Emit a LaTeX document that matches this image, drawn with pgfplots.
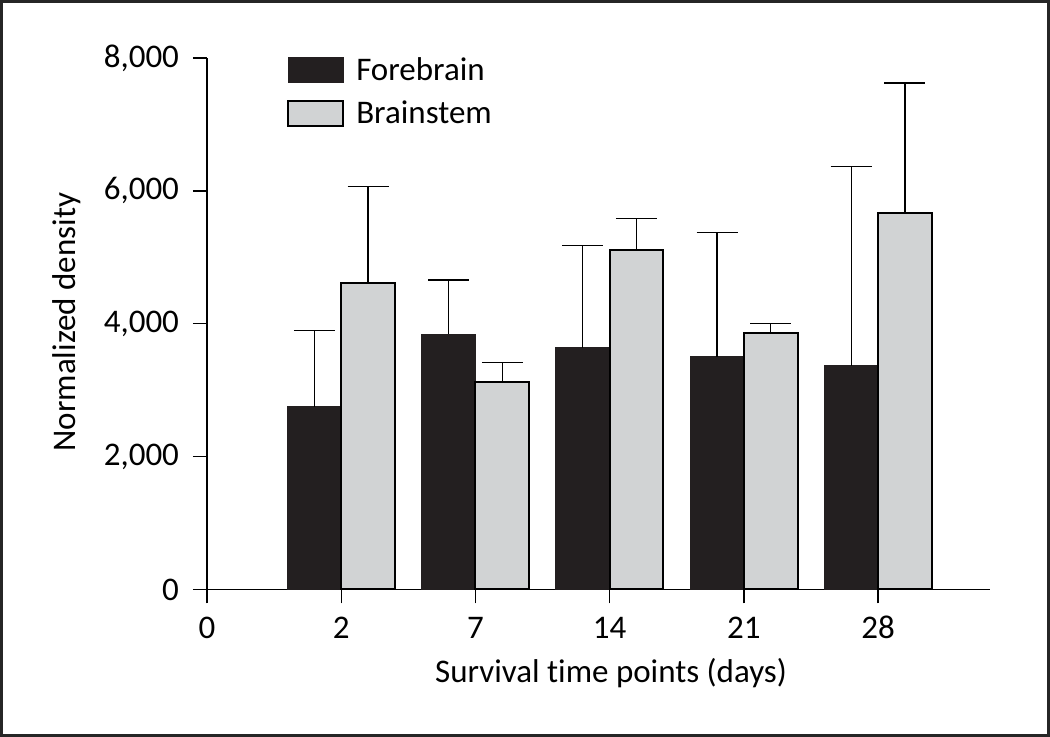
\documentclass[border=0pt]{standalone}
\usepackage{fontspec}
\setmainfont{Carlito}[Ligatures={NoCommon}]
\usepackage{pgfplots}
\pgfplotsset{compat=1.18}
\definecolor{fore}{HTML}{231F20}
\definecolor{brain}{HTML}{D1D3D4}
\pgfplotsset{myleg/.style={legend image code/.code={\draw[##1] (0pt,-6.25pt) rectangle (27.5pt,6.25pt);}}}
\begin{document}
\begin{tikzpicture}[x=1pt,y=1pt]
\draw[line width=1.4pt, color=black!85] (0.7,0.7) rectangle (524.3,367.8);
\begin{axis}[
  at={(103.5pt,73.75pt)}, anchor=south west,
  scale only axis, width=391.5pt, height=265.75pt,
  xmin=0, xmax=5.834, ymin=0, ymax=8000,
  axis x line*=bottom, axis y line*=left,
  axis line style={line width=0.7pt, black},
  tick align=outside, major tick length=7pt,
  tick style={line width=0.7pt, black},
  xtick={0,1,2,3,4,5}, xticklabels={0,2,7,14,21,28},
  ytick={0,2000,4000,6000,8000},
  scaled y ticks=false,
  /pgf/number format/assume math mode=true,
  /pgf/number format/1000 sep={,},
  tick label style={font=\fontsize{16.5}{19}\selectfont},
  y tick label style={xshift=-3.5pt},
  x tick label style={yshift=-2.5pt, text height=11.5pt, text depth=0pt},
  xlabel={Survival time points (days)},
  ylabel={Normalized density},
  label style={font=\fontsize{16.5}{19}\selectfont},
  x label style={at={(axis description cs:0.516,-0.1759)}, anchor=base},
  y label style={at={(axis description cs:-0.1788,0.503)}, anchor=center, rotate=0},
  legend style={at={(axis description cs:0.102,1.0094)}, anchor=north west, draw=none, fill=none,
    font=\fontsize{16.5}{19}\selectfont, inner sep=0pt, row sep=4.8pt, column sep=4pt},
  legend cell align=left,
  ybar, bar width=0.4,
]
\addplot[bar shift=-0.2, fill=fore, draw=fore, line width=0.6pt,
  error bars/.cd, y dir=plus, y explicit, error mark=|,
  error bar style={line width=0.6pt, black},
  error mark options={line width=0.6pt, black, mark size=10.25pt},
  /pgfplots/.cd, myleg]
  table[x=x, y=y, y error=e] {
x y e
1 2748 1155
2 3843 814
3 3642 1536
4 3502 1872
5 3366 3001
};
\addlegendentry{Forebrain}
\addplot[bar shift=0.2, fill=brain, draw=black, line width=1pt,
  error bars/.cd, y dir=plus, y explicit, error mark=|,
  error bar style={line width=0.6pt, black},
  error mark options={line width=0.6pt, black, mark size=10.25pt},
  /pgfplots/.cd, myleg]
  table[x=x, y=y, y error=e] {
x y e
1 4611 1455
2 3130 281
3 5113 467
4 3858 140
5 5666 1957
};
\addlegendentry{Brainstem}
\end{axis}
\end{tikzpicture}
\end{document}
